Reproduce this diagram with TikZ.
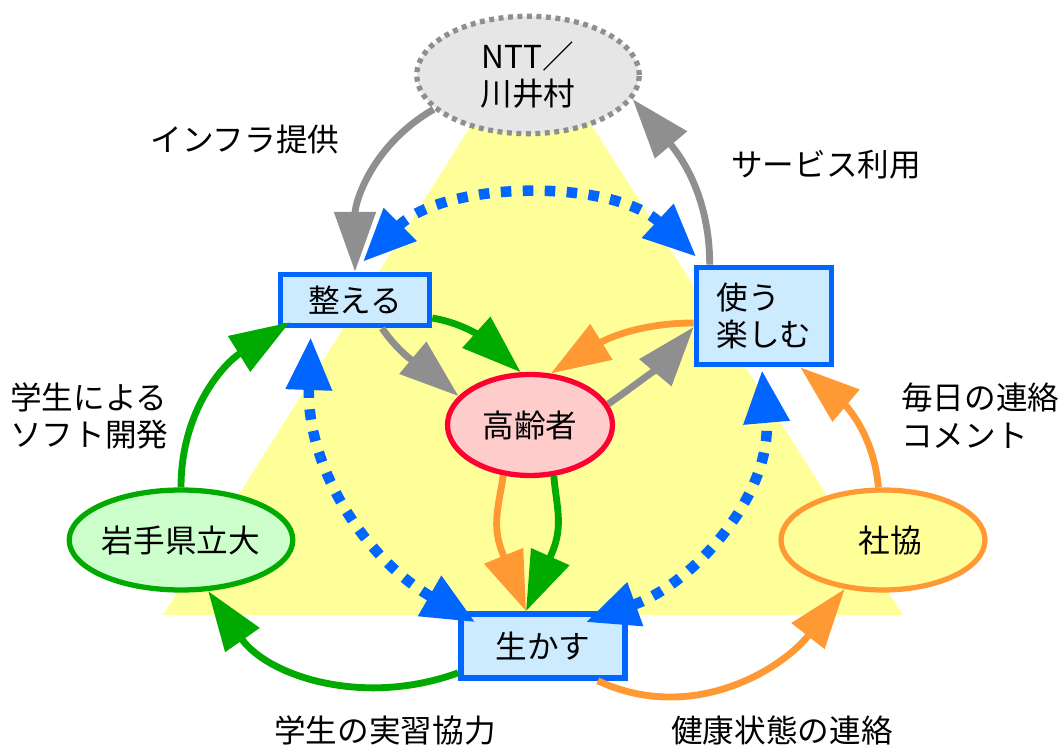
\documentclass[tikz,border=0pt]{standalone}
\usepackage{fontspec}
\newfontfamily\jpfont{Noto Sans CJK JP}
\usetikzlibrary{arrows.meta,shapes.geometric,calc}
\definecolor{boxblue}{HTML}{0066FF}
\definecolor{boxfill}{HTML}{CCEBFF}
\definecolor{arrgray}{HTML}{8F8F8F}
\definecolor{arrgreen}{HTML}{00AA00}
\definecolor{arrorange}{HTML}{FF9933}
\definecolor{kred}{HTML}{FF0033}
\definecolor{kfill}{HTML}{FFCCCC}
\definecolor{gfill}{HTML}{CCFFCC}
\definecolor{tri}{HTML}{FFFF99}
\definecolor{nfill}{HTML}{E6E6E6}
\tikzset{
  jp/.style={font=\jpfont\fontsize{18pt}{21.5pt}\selectfont},
  bluebox/.style={jp, rectangle, draw=boxblue, fill=boxfill, line width=3.2pt, inner sep=0pt},
  ell/.style={jp, ellipse, line width=3pt, inner sep=0pt},
  tip/.style={-{Triangle[length=34pt,width=23pt]}},
  conn/.style={tip, line width=3.9pt},
  bconn/.style={{Triangle[length=30pt,width=25pt]}-{Triangle[length=30pt,width=25pt]}, draw=boxblue, line width=6pt, dash pattern=on 6pt off 6.5pt},
  lbl/.style={jp, inner sep=0pt}
}
\begin{document}
\begin{tikzpicture}[x=0.02cm,y=-0.02cm]
\useasboundingbox (0,0) rectangle (1062,749);
% yellow triangle
\fill[tri] (531,30) -- (903,615) -- (163,615) -- cycle;

% nodes
\node[ell, draw=arrgray, fill=nfill, dash pattern=on 2.8pt off 2.6pt, minimum width=4.45cm, minimum height=2.35cm, align=center] (ntt) at (528,75) {NTT／\\川井村};
\node[bluebox, minimum width=2.98cm, minimum height=1.02cm] (tot) at (355,300) {整える};
\node[bluebox, minimum width=2.7cm, minimum height=1.94cm, align=left] (use) at (764,316) {使う\\楽しむ};
\node[bluebox, minimum width=3.28cm, minimum height=1.28cm] (ika) at (543,646) {生かす};
\node[ell, draw=kred, fill=kfill, minimum width=3.3cm, minimum height=2.02cm] (kou) at (530,425) {高齢者};
\node[ell, draw=arrgreen, fill=gfill, minimum width=3.76cm, minimum height=2.0cm] (iwa) at (181,540) {岩手県立大};
\node[ell, draw=arrorange, fill=tri, minimum width=4.08cm, minimum height=2.0cm] (sha) at (883,540) {\hspace{0.3cm}社協};

% helper coordinates for the two arrows into 生かす
\coordinate (ikatop) at ([xshift=-0.34cm]ika.north);
\coordinate (ob) at ($(ikatop)+(112:1.25cm)$);
\coordinate (gb) at ($(ikatop)+(66:1.25cm)$);

% gray connectors
\draw[conn, arrgray] (ntt.200) to[out=210, in=90] (tot.north);
\draw[conn, arrgray] ([xshift=0.32cm]use.north west) to[out=90, in=-50] (ntt.-13);
\draw[conn, arrgray] ([xshift=0.54cm]tot.south) to[out=-55, in=140] (kou.158);
\draw[conn, arrgray] (kou.15) to[out=35, in=-130] ([yshift=-0.22cm]use.west);

% green connectors
\draw[conn, arrgreen] ([yshift=-0.36cm]tot.east) to[out=-10, in=138] (kou.100);
\draw[conn, arrgreen] (kou.295) to[out=-85, in=66] (gb) -- (ikatop);
\draw[conn, arrgreen] (iwa.north) to[out=90, in=-148] ([xshift=0.24cm,yshift=0.12cm]tot.south west);
\draw[conn, arrgreen] ([yshift=0.16cm]ika.south west) to[out=200, in=-55] (iwa.-62);

% orange connectors
\draw[conn, arrorange] ([yshift=-0.14cm]use.west) to[out=180, in=32] (kou.68);
\draw[conn, arrorange] (kou.242) to[out=-98, in=112] (ob) -- (ikatop);
\draw[conn, arrorange] ([xshift=-0.6cm]ika.south east) to[out=-25, in=-128] (sha.232);
\draw[conn, arrorange] (sha.95) to[out=95, in=-40] ([xshift=-0.68cm]use.south east);

% blue dotted double arrows
\draw[bconn] ([xshift=0.16cm,yshift=0.2cm]tot.north) to[out=45, in=137, looseness=0.88] ([xshift=0.05cm,yshift=0.16cm]use.north west);
\draw[bconn] ([xshift=0.66cm,yshift=-0.18cm]tot.south west) to[out=-92, in=150] ([xshift=0.34cm,yshift=-0.22cm]ika.north west);
\draw[bconn] ([xshift=-0.84cm,yshift=-0.22cm]ika.north east) to[out=20, in=-85] ([xshift=-0.04cm,yshift=-0.06cm]use.south);

% labels
\node[lbl] (l1) at (245,140) {インフラ提供};
\node[lbl] (l2) at (826,165) {サービス利用};
\node[lbl, align=left, anchor=west] (l3) at (10,416) {学生による\\ソフト開発};
\node[lbl, align=left, anchor=west] (l4) at (901,416) {毎日の連絡\\コメント};
\node[lbl] (l5) at (385,730) {学生の実習協力};
\node[lbl] (l6) at (782,730) {健康状態の連絡};
\end{tikzpicture}
\end{document}
